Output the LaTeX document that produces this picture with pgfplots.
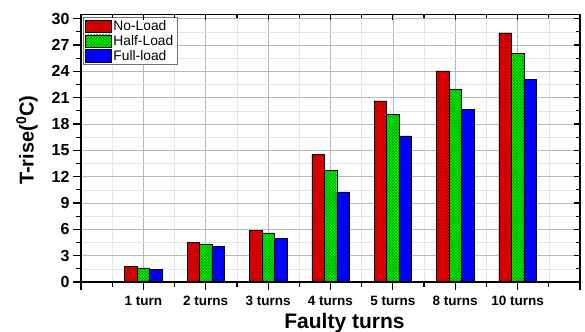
\documentclass[border=0pt]{standalone}
\usepackage{fontspec}
\setmainfont{Liberation Sans}
\usepackage{pgfplots}
\pgfplotsset{compat=1.18}
\usepackage{pgfplotstable}
\usetikzlibrary{patterns}

\pgfplotstableread{
x red green blue
1 1.79 1.60 1.45
2 4.49 4.33 4.10
3 5.90 5.59 4.95
4 14.56 12.74 10.26
5 20.64 19.12 16.65
6 24.06 21.94 19.66
7 28.39 26.04 23.11
}\data

\pgfplotsset{
  mybar/.style={ybar, bar width=0.2, draw=black, line width=0.4bp,
    legend image code/.code={\draw[##1, line width=0.4bp] (0bp,-6.3bp) rectangle (26bp,6.3bp);}},
}

\begin{document}
\begin{tikzpicture}
\useasboundingbox (-81bp,-50bp) rectangle (504bp,282bp);
\begin{axis}[
  at={(0,0)}, anchor=south west, scale only axis,
  width=499bp, height=267.7bp,
  xmin=0, xmax=8, ymin=0, ymax=30.5,
  xtick={0,...,8},
  xticklabels={,1 turn,2 turns,3 turns,4 turns,5 turns,8 turns,10 turns,},
  minor xtick={0.5,1.5,...,7.5},
  ytick={0,3,...,30},
  minor ytick={1.5,4.5,...,28.5},
  tick align=outside, xtick pos=left, ytick pos=left,
  major tick length=8bp, minor tick length=4.5bp,
  every tick/.style={black, line width=1.2bp},
  grid=both,
  major grid style={black!28, line width=0.6bp},
  minor grid style={black!10, line width=0.5bp},
  axis line style={line width=1.4bp},
  /pgf/number format/assume math mode=true,
  yticklabel style={font=\fontsize{16bp}{16bp}\selectfont\bfseries},
  xticklabel style={font=\fontsize{13.5bp}{13.5bp}\selectfont\bfseries, yshift=-2.5bp},
  xlabel={Faulty turns},
  xlabel style={font=\fontsize{21bp}{21bp}\selectfont\bfseries, at={(axis description cs:0.528,0)}, anchor=base, yshift=-46bp},
  ylabel={T-rise($^{\mathbf{0}}$C)},
  ylabel style={font=\fontsize{20bp}{20bp}\selectfont\bfseries, at={(axis description cs:-0.108,0.53)}, anchor=center},
  legend style={at={(axis description cs:0.0034,0.9888)}, anchor=north west,
    draw=black!55, line width=0.5bp, fill=white,
    font=\fontsize{13.8bp}{15bp}\selectfont,
    inner xsep=2.5bp, inner ysep=1.5bp, row sep=0bp,
    nodes={inner sep=1.6bp}},
  legend cell align=left,
]
\addplot[mybar, bar shift=-0.2, fill=red,
  postaction={pattern=north east lines, pattern color=red!65!black},
  postaction={pattern=north west lines, pattern color=red!65!black}]
  table[x=x, y=red]{\data};
\addplot[mybar, bar shift=0, fill=green,
  postaction={pattern=north east lines, pattern color=green!60!black},
  postaction={pattern=north west lines, pattern color=green!60!black}]
  table[x=x, y=green]{\data};
\addplot[mybar, bar shift=0.2, fill=blue]
  table[x=x, y=blue]{\data};
\legend{No-Load, Half-Load, Full-load}
\end{axis}
\begin{axis}[
  at={(0,0)}, anchor=south west, scale only axis,
  width=499bp, height=267.7bp,
  xmin=0, xmax=8, ymin=0, ymax=30.5,
  xtick={1,...,7}, minor xtick={0.5,1.5,...,7.5},
  ytick={3,6,...,30}, minor ytick={1.5,4.5,...,28.5},
  xticklabels={}, yticklabels={},
  tick align=inside, xtick pos=right, ytick pos=right,
  major tick length=6bp, minor tick length=4bp,
  every tick/.style={black, line width=1.2bp},
  axis line style={line width=1.4bp},
]
\end{axis}
\end{tikzpicture}
\end{document}
